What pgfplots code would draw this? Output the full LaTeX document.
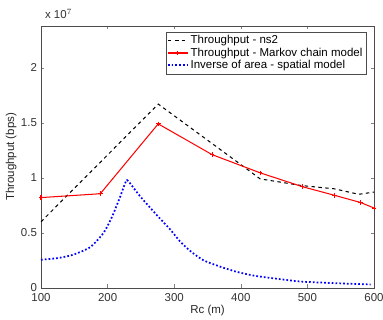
\documentclass[border=0pt]{standalone}
\usepackage{pgfplots}
\pgfplotsset{compat=1.18}
\usepackage{fontspec}
\setmainfont{Liberation Sans}
\begin{document}
\begin{tikzpicture}
\begin{axis}[
  scale only axis,
  width=290pt, height=228pt,
  xmin=100, xmax=600, ymin=0, ymax=2.38,
  xtick={100,200,300,400,500,600},
  ytick={0,0.5,1,1.5,2},
  tick align=inside,
  tick pos=both,
  major tick length=3pt,
  /pgf/number format/assume math mode=true,
  /pgf/number format/fixed,
  tick label style={font=\normalsize, color=black!80},
  xticklabel style={yshift=-1.5pt},
  yticklabel style={xshift=0pt},
  xlabel={Rc (m)}, ylabel={Throughput (bps)},
  label style={font=\normalsize, color=black!85},
  ylabel style={yshift=-3pt},
  xlabel style={yshift=4pt},
  axis line style={black!70},
  legend style={at={(0.976,0.977)}, anchor=north east, font=\normalsize,
    draw=black!70, inner sep=1pt, row sep=-2pt, cells={anchor=west}},
]
\addplot[black, dashed, line width=0.9pt] coordinates {
 (100,0.60) (276,1.67) (400,1.12) (429,0.99) (460,0.96) (490,0.93) (540,0.90) (577,0.85) (600,0.87)};
\addlegendentry{Throughput - ns2}
\addplot[red, line width=0.9pt, mark=+, mark size=2pt] coordinates {
 (100,0.82) (189,0.855) (276,1.49) (357,1.21) (429,1.045) (492,0.92) (541,0.84) (580,0.775) (600,0.725)};
\addlegendentry{Throughput - Markov chain model}
\addplot[blue, line width=1.5pt, dash pattern=on 1.5pt off 1.8pt, smooth, tension=0.4] coordinates {
 (100,0.255) (125,0.27) (148,0.30) (174,0.37) (194,0.50) (207,0.65) (219,0.83) (225,0.93) (229,0.98) (235,0.94) (249,0.83) (274,0.66) (294,0.53) (309,0.42) (325,0.33) (344,0.25) (370,0.19) (394,0.145) (420,0.11) (444,0.09) (470,0.07) (494,0.055) (550,0.04) (595,0.03)};
\addlegendentry{Inverse of area - spatial model}
\end{axis}
\node[anchor=south west, font=\normalsize, color=black!80] at ([yshift=3pt]current axis.north west) {x 10$^{7}$};
\pgfresetboundingbox
\useasboundingbox ([shift={(-35.7pt,-27.8pt)}]current axis.south west) rectangle ([shift={(7.8pt,22.6pt)}]current axis.north east);
\end{tikzpicture}
\end{document}
